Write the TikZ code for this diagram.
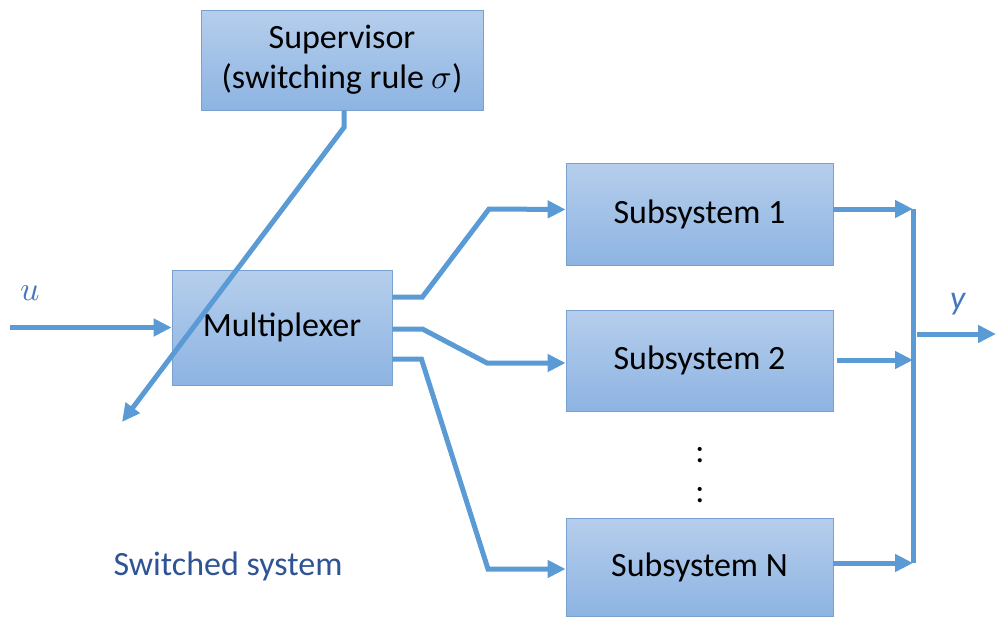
\documentclass[tikz,border=0pt]{standalone}
\usepackage{fontspec}
\usepackage{unicode-math}
\setmainfont{Carlito}
\setmathfont{Latin Modern Math}
\usetikzlibrary{arrows.meta,calc}
\definecolor{flow}{RGB}{91,155,213}
\definecolor{boxtop}{RGB}{182,206,236}
\definecolor{boxbot}{RGB}{141,180,226}
\definecolor{boxedge}{RGB}{122,160,208}
\definecolor{lbl}{RGB}{70,120,190}
\definecolor{caption}{RGB}{46,84,150}
\begin{document}
\begin{tikzpicture}[x=1pt,y=-1pt,
  blk/.style={draw=boxedge, line width=0.8pt, top color=boxtop, bottom color=boxbot,
              inner sep=0pt, align=center, font=\fontsize{34}{40}\selectfont},
  wire/.style={draw=flow, line width=5pt},
  arr/.style={wire, -{Triangle[length=18pt,width=17pt]}},
  txt/.style={font=\fontsize{34}{40}\selectfont}]
\useasboundingbox (0,0) rectangle (996,616);

% blocks
\node[blk, minimum width=282pt, minimum height=100pt] (sup) at (342,60)
  {Supervisor\\(switching rule $\sigma$)};
\node[blk, minimum width=220pt, minimum height=115pt] (mux) at (282,327.5) {Multiplexer};
\node[blk, minimum width=267pt, minimum height=102pt] (s1) at (699.5,214) {Subsystem 1};
\node[blk, minimum width=267pt, minimum height=101pt] (s2) at (699.5,360.5) {Subsystem 2};
\node[blk, minimum width=267pt, minimum height=98pt] (sN) at (699.5,567) {Subsystem N};

% ellipsis between subsystems
\node[txt] (d1) at (700,455) {:};
\node[txt] (d2) at (700,495) {:};

% labels
\node[txt, text=lbl] (ulab) at (30,293) {$u$};
\node[txt, text=lbl] (ylab) at (958,304) {\textit{y}};
\node[txt, text=caption] (cap) at (228,566) {Switched system};

% input
\coordinate (uin) at (10,327.5);
\draw[arr] (uin) -- (mux.west);

% switching signal
\coordinate (sctl) at (122,422);
\draw[arr] ($(sup.south)+(2,0)$) -- ++(0,17) -- (sctl);

% multiplexer outputs
\draw[arr] ($(mux.east)+(0,-30.5)$) -- ++(30,0) -- (489,209) -- ($(s1.west)+(0,-4.5)$);
\draw[arr] ($(mux.east)+(0,1.5)$) -- ++(30,0) -- (487,363) -- ($(s2.west)+(0,2.5)$);
\draw[arr] ($(mux.east)+(0,31.5)$) -- ++(29,0) -- (488,569) -- ($(sN.west)+(0,2)$);

% output bus
\coordinate (bt) at (913,209);
\coordinate (bb) at (913,563);
\coordinate (bs) at (913,360);
\draw[wire] (bt) -- (bb);
\draw[arr] (s1.east |- bt) -- (bt);
\draw[arr] ($(s2.east)+(4,-0.5)$) -- (bs);
\draw[arr] (sN.east |- bb) -- (bb);

\coordinate (yo) at (917,334);
\coordinate (yend) at (996,334);
\draw[arr] (yo) -- (yend);
\end{tikzpicture}
\end{document}
